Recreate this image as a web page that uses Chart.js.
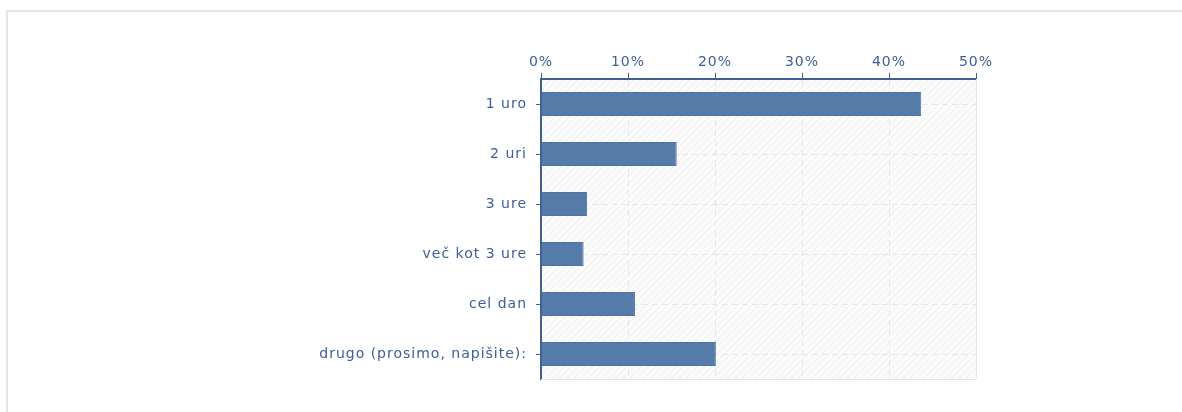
<!DOCTYPE html>
<html><head><meta charset="utf-8">
<script src="https://cdn.jsdelivr.net/npm/chart.js@4"></script>
<style>
html,body{margin:0;padding:0;background:#fff;width:1182px;height:412px;overflow:hidden}
#wrap{position:absolute;left:0;top:0;width:1182px;height:412px}
#frame{position:absolute;left:6px;top:10px;width:1182px;height:410px;border-top:2px solid #dde5f0;border-left:2px solid #dde5f0;pointer-events:none}
</style></head><body>
<div id="wrap"><canvas id="c" width="1182" height="412"></canvas></div>
<div id="frame"></div>
<script>
const categories = ["1 uro","2 uri","3 ure","več kot 3 ure","cel dan","drugo (prosimo, napišite):"];
const values = [43.7, 15.6, 5.3, 4.9, 10.8, 20.1];
const tickStep = 10;
const axisMax = 50;

const TXT = '#3d5e97';
const AX = '#3f5f95';
const GRID = '#e1e6ef';

function hatch(ctx){
  const p = document.createElement('canvas'); p.width=7; p.height=7;
  const g = p.getContext('2d');
  g.fillStyle='#fbfbfc'; g.fillRect(0,0,7,7);
  g.strokeStyle='#ecedf0'; g.lineWidth=1;
  g.beginPath(); g.moveTo(-1,8); g.lineTo(8,-1); g.stroke();
  g.beginPath(); g.moveTo(-1,1); g.lineTo(1,-1); g.stroke();
  g.beginPath(); g.moveTo(6,8); g.lineTo(8,6); g.stroke();
  return ctx.createPattern(p,'repeat');
}
const spacingPlugin = {
  id:'spacing',
  beforeUpdate(chart){ chart.ctx.letterSpacing = '1px'; },
  beforeLayout(chart){ chart.ctx.letterSpacing = '1px'; },
  beforeDraw(chart){ chart.ctx.letterSpacing = '1px'; }
};
const bgPlugin = {
  id:'bg',
  beforeDraw(chart){
    const {ctx, chartArea:a} = chart;
    ctx.save(); ctx.fillStyle = hatch(ctx);
    ctx.fillRect(a.left,a.top,a.right-a.left,a.bottom-a.top);
    ctx.restore();
  },
  afterDatasetsDraw(chart){
    const {ctx, chartArea:a} = chart;
    ctx.save(); ctx.strokeStyle='#dfe5ef'; ctx.lineWidth=1;
    ctx.beginPath();
    ctx.moveTo(Math.round(a.right)+0.5,a.top); ctx.lineTo(Math.round(a.right)+0.5,a.bottom);
    ctx.moveTo(a.left,Math.round(a.bottom)+0.5); ctx.lineTo(a.right,Math.round(a.bottom)+0.5);
    ctx.stroke(); ctx.restore();
  }
};

Chart.defaults.font.family = 'DejaVu Sans';
Chart.defaults.font.size = 14;
new Chart(document.getElementById('c'), {
  type:'bar',
  data:{labels:categories, datasets:[{data:values, backgroundColor:'#557ba9', borderColor:'#4f74a2', borderWidth:1, barPercentage:0.48, categoryPercentage:1}]},
  options:{
    indexAxis:'y', responsive:false, animation:false,
    layout:{padding:{left:0,right:206,top:0,bottom:33}},
    plugins:{legend:{display:false}, tooltip:{enabled:false}},
    scales:{
      x:{position:'top', min:0, max:axisMax,
        afterFit(s){ s.height = 79; },
        ticks:{stepSize:tickStep, color:TXT, padding:2, callback:v=>v+'%'},
        grid:{color:GRID, tickColor:AX, tickLength:6, tickBorderDash:[]},
        border:{color:AX, width:2, dash:[6,4]}
      },
      y:{
        afterFit(s){ s.width = 541; },
        ticks:{color:TXT, padding:9},
        grid:{offset:false, color:GRID, tickColor:AX, tickLength:5, tickBorderDash:[]},
        border:{color:AX, width:2, dash:[6,4]}
      }
    }
  },
  plugins:[spacingPlugin, bgPlugin]
});
</script></body></html>
